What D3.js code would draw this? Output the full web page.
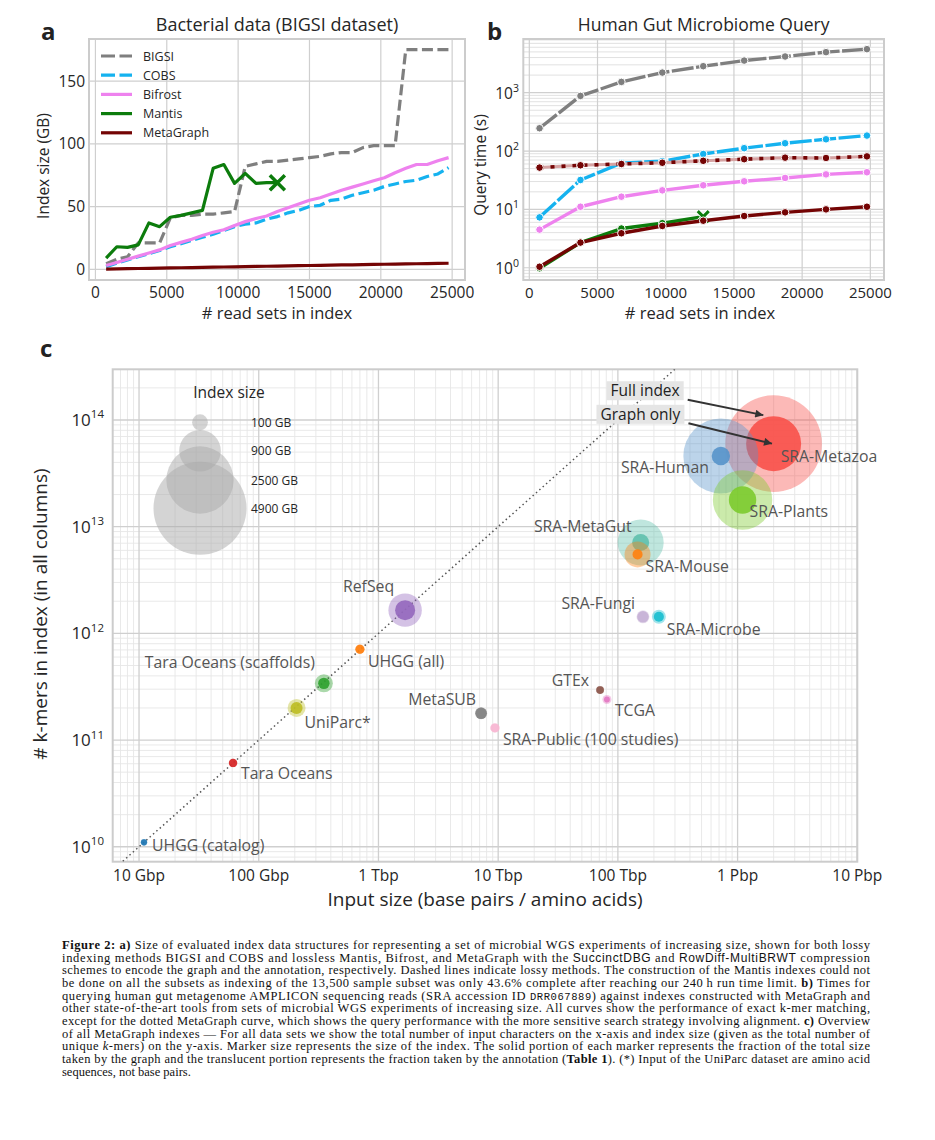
<!DOCTYPE html>
<html><head><meta charset="utf-8">
<script src="https://cdn.jsdelivr.net/npm/d3@7"></script>
<style>
body{margin:0;background:#fff;}
svg text{font-family:"Open Sans",sans-serif;}
</style></head>
<body><svg id="fig" width="935" height="1140"></svg>
<script>
// ================= DATA =================
// Panel a: index size (GB) vs # read sets
const aReadSets = [750,1500,2250,3000,3750,4500,5250,6000,6750,7500,8250,9000,9750,10500,11250,12000,12750,13500,14250,15000,15750,16500,17250,18000,18750,19500,20250,21000,21750,22500,23250,24000,24750];
const aBIGSI = [4.5,8,10,21,21,21,41,43,43,44,44,45,46,82,84,86,86,87,88,89,90,92,93,93,97,98.5,98.5,98.5,175,175,175,175,175];
const aCOBS = [2,5,7.5,10,12.5,15,18,20.5,23,25.5,28,31,34,36,37,40,42,45,47,50,51,55,56,59,61,63,66,68,70,71,74,76,81];
const aBifrost = [3,5.5,8,10.5,13,15.5,19,21.5,24,27,29.5,31.5,35,38,40.5,42.5,46,49,52,55,57,60,63,65.5,68,70.5,73,77,80.5,83.5,83.5,86.5,89];
const aMantis = [9,18,17.5,19.5,37,34,41.5,43,45,47,80.5,83.5,68.5,76.5,68.5,69,69];
const aMetaGraph = [0.2,0.35,0.5,0.65,0.8,0.95,1.1,1.25,1.4,1.55,1.7,1.85,2.0,2.15,2.3,2.45,2.6,2.75,2.9,3.05,3.2,3.35,3.5,3.6,3.75,3.9,4.05,4.2,4.3,4.45,4.6,4.7,4.85];
const aXTicks = [0,5000,10000,15000,20000,25000];
const aYTicks = [0,50,100,150];
const methodNames = ["BIGSI","COBS","Bifrost","Mantis","MetaGraph"];

// Panel b: query time (s) vs # read sets
const bReadSets = [750,3750,6750,9750,12750,15750,18750,21750,24750];
const bBIGSI = [246,880,1530,2210,2845,3550,4170,4950,5570];
const bCOBS = [7.3,31.9,62,67,89,112,136,159,184];
const bBifrost = [4.5,11.1,16.5,21.2,25.9,30.3,34.6,39.8,43.3];
const bMantis = [0.98,2.7,4.7,5.8,7.5];
const bMetaGraph = [1.04,2.7,3.9,5.2,6.4,7.7,8.9,10,11.1];
const bMetaGraphAlign = [52,57,60,63,68,72.5,77,76,81];
const bXTicks = [0,5000,10000,15000,20000,25000];
const bYTicks = [1,10,100,1000];

// Panel c: overview of MetaGraph indexes
const cNames = ["UHGG (catalog)","Tara Oceans","UniParc*","Tara Oceans (scaffolds)","UHGG (all)","RefSeq","MetaSUB","SRA-Public (100 studies)","GTEx","TCGA","SRA-Fungi","SRA-Microbe","SRA-MetaGut","SRA-Mouse","SRA-Human","SRA-Metazoa","SRA-Plants"];
const cInput = [1.1e10,6.1e10,2.07e11,3.5e11,7.0e11,1.67e12,7.2e12,9.4e12,7.1e13,8.1e13,1.62e14,2.2e14,1.55e14,1.46e14,7.25e14,2.0e15,1.1e15];
const cKmers = [1.1e10,6.1e10,2.0e11,3.4e11,7.1e11,1.65e12,1.78e11,1.3e11,2.94e11,2.4e11,1.43e12,1.43e12,7.1e12,5.5e12,4.6e13,6.0e13,1.78e13];
const cTotalGB = [8,19,136,136,25,559,49,25,15,22,60,73,1118,320,3136,5300,1924];
const cGraphGB = [6,17,49,43,22,175,44,22,13,5,45,30,119,30,143,1636,360];
const cXTicks = [1e10,1e11,1e12,1e13,1e14,1e15,1e16];
const cXTickLabels = ["10 Gbp","100 Gbp","1 Tbp","10 Tbp","100 Tbp","1 Pbp","10 Pbp"];
const cYTicks = [1e10,1e11,1e12,1e13,1e14];
const cLegendGB = [100,900,2500,4900];
const cLegendLabels = ["100 GB","900 GB","2500 GB","4900 GB"];
const cAnnotText = ["Full index","Graph only"];

// ================= STYLE / LAYOUT =================
const col = {BIGSI:"#7f7f7f", COBS:"#15b2ef", Bifrost:"#ee82ee", Mantis:"#0c7c0c", MetaGraph:"#740404"};
const cColors = ["#1f77b4","#d62728","#bcbd22","#2ca02c","#ff7f0e","#9467bd","#7f7f7f","#f7b6d2","#8c564b","#e377c2","#c5b0d5","#17becf","#5fc0ad","#ff7f0e","#5793ca","#f8514a","#7ccb2e"];
// label offsets [dx, dy(center), anchor]
const cLabelPos = [[8,3,"start"],[8,11,"start"],[8,15,"start"],[-9,-21,"end"],[8,12,"start"],[-11,-24,"end"],[-5,-14,"end"],[8,12,"start"],[-11,-10,"end"],[8,11,"start"],[-8,-13,"end"],[8,13,"start"],[-9,-16,"end"],[8,12,"start"],[-12,12,"end"],[7,13,"start"],[7,12,"start"]];
// annotation layout in data space: text centre, arrow tip
const cAnnotLayout = [
  {tx:1.69e14, ty:1.88e14, ax:1.64e15, ay:1.11e14},
  {tx:1.54e14, ty:1.13e14, ax:1.94e15, ay:6.0e13}
];

const svg = d3.select("#fig");
const ink = "#262626";
const gridMajor = "#cfcfcf", gridMinor = "#e6e6e6", frameCol = "#cccccc";

// ============ PANEL A ============
(function(){
  const L=89,R=465,T=39,B=280;
  const x = d3.scaleLinear().domain([-450,25900]).range([L,R]);
  const y = d3.scaleLinear().domain([-8.5,183.5]).range([B,T]);
  const g = svg.append("g");
  g.selectAll(".gx").data(aXTicks).join("line").attr("x1",d=>x(d)).attr("x2",d=>x(d)).attr("y1",T).attr("y2",B).attr("stroke",gridMajor).attr("stroke-width",1.2);
  g.selectAll(".gy").data(aYTicks).join("line").attr("y1",d=>y(d)).attr("y2",d=>y(d)).attr("x1",L).attr("x2",R).attr("stroke",gridMajor).attr("stroke-width",1.2);
  g.append("rect").attr("x",L).attr("y",T).attr("width",R-L).attr("height",B-T).attr("fill","none").attr("stroke",frameCol).attr("stroke-width",2);
  const line = d3.line().x(d=>x(d[0])).y(d=>y(d[1]));
  const series = [
    {n:"BIGSI", v:aBIGSI, dash:"11,4.5"},
    {n:"COBS", v:aCOBS, dash:"11,4.5"},
    {n:"Bifrost", v:aBifrost, dash:null},
    {n:"Mantis", v:aMantis, dash:null},
    {n:"MetaGraph", v:aMetaGraph, dash:null}
  ];
  series.forEach(s=>{
    const pts = s.v.map((v,i)=>[aReadSets[i],v]);
    g.append("path").attr("d",line(pts)).attr("fill","none").attr("stroke",col[s.n]).attr("stroke-width",3.2)
      .attr("stroke-dasharray",s.dash).attr("stroke-linejoin","round");
  });
  const mx = x(aReadSets[aMantis.length-1]), my = y(aMantis[aMantis.length-1]);
  const xs=7.5;
  g.append("path").attr("d",`M${mx-xs},${my-xs}L${mx+xs},${my+xs}M${mx-xs},${my+xs}L${mx+xs},${my-xs}`).attr("stroke",col.Mantis).attr("stroke-width",3.5).attr("fill","none");
  g.selectAll(".tx").data(aXTicks).join("text").attr("x",d=>x(d)).attr("y",298).attr("text-anchor","middle").attr("font-size",15.5).attr("fill",ink).text(d=>d);
  g.selectAll(".ty").data(aYTicks).join("text").attr("x",85).attr("y",d=>y(d)+5.5).attr("text-anchor","end").attr("font-size",15.5).attr("fill",ink).text(d=>d);
  g.append("text").attr("x",(L+R)/2).attr("y",319).attr("text-anchor","middle").attr("font-size",16.5).attr("fill",ink).text("# read sets in index");
  g.append("text").attr("transform","translate(49,166) rotate(-90)").attr("text-anchor","middle").attr("font-size",15.5).attr("fill",ink).text("Index size (GB)");
  g.append("text").attr("x",(L+R)/2).attr("y",31).attr("text-anchor","middle").attr("font-size",18).attr("fill",ink).text("Bacterial data (BIGSI dataset)");
  methodNames.forEach((n,i)=>{
    const yy = 56 + i*19.2;
    g.append("line").attr("x1",101).attr("x2",132).attr("y1",yy).attr("y2",yy).attr("stroke",col[n]).attr("stroke-width",3.2)
      .attr("stroke-dasharray", i<2 ? "14,4.5" : null);
    g.append("text").attr("x",143).attr("y",yy+4.5).attr("font-size",12.5).attr("fill",ink).text(n);
  });
  svg.append("text").attr("x",41).attr("y",40).attr("font-size",24).attr("font-weight",700).attr("fill","#222").text("a");
})();

// ============ PANEL B ============
(function(){
  const L=523.3,R=884,T=39,B=280;
  const x = d3.scaleLinear().domain([-440,26000]).range([L,R]);
  const y = d3.scaleLog().domain([Math.pow(10,-0.21),Math.pow(10,3.92)]).range([B,T]);
  const g = svg.append("g");
  const allY = y.ticks();
  g.selectAll(".gym").data(allY).join("line").attr("y1",d=>y(d)).attr("y2",d=>y(d)).attr("x1",L).attr("x2",R)
    .attr("stroke",d=>bYTicks.includes(d)?gridMajor:"#dedede").attr("stroke-width",d=>bYTicks.includes(d)?1.2:0.9);
  g.selectAll(".gx").data(bXTicks).join("line").attr("x1",d=>x(d)).attr("x2",d=>x(d)).attr("y1",T).attr("y2",B).attr("stroke",gridMajor).attr("stroke-width",1.2);
  g.append("rect").attr("x",L).attr("y",T).attr("width",R-L).attr("height",B-T).attr("fill","none").attr("stroke",frameCol).attr("stroke-width",2);
  const line = d3.line().x(d=>x(d[0])).y(d=>y(d[1]));
  const series = [
    {n:"BIGSI", v:bBIGSI, dash:"22,2.5"},
    {n:"COBS", v:bCOBS, dash:"22,2.5"},
    {n:"Bifrost", v:bBifrost, dash:null},
    {n:"Mantis", v:bMantis, dash:null},
    {n:"MetaGraph", v:bMetaGraph, dash:null}
  ];
  series.forEach(s=>{
    const pts = s.v.map((v,i)=>[bReadSets[i],v]);
    g.append("path").attr("d",line(pts)).attr("fill","none").attr("stroke",col[s.n]).attr("stroke-width",3.4).attr("stroke-dasharray",s.dash).attr("stroke-linejoin","round");
    const mk = s.n==="Mantis" ? pts.slice(0,-1) : pts;
    g.selectAll(null).data(mk).join("circle").attr("cx",d=>x(d[0])).attr("cy",d=>y(d[1])).attr("r",3.8)
      .attr("fill",col[s.n]).attr("stroke","#fff").attr("stroke-width",1);
    if(s.n==="Mantis"){
      const l = pts[pts.length-1]; const cx=x(l[0]), cy=y(l[1]), s2=5.5;
      const d = `M${cx-s2},${cy-s2}L${cx+s2},${cy+s2}M${cx-s2},${cy+s2}L${cx+s2},${cy-s2}`;
      g.append("path").attr("d",d).attr("stroke","#fff").attr("stroke-width",5).attr("fill","none");
      g.append("path").attr("d",d).attr("stroke",col.Mantis).attr("stroke-width",3).attr("fill","none");
    }
  });
  const ap = bMetaGraphAlign.map((v,i)=>[bReadSets[i],v]);
  g.append("path").attr("d",line(ap)).attr("fill","none").attr("stroke","#d6a3a3").attr("stroke-width",3);
  g.append("path").attr("d",line(ap)).attr("fill","none").attr("stroke",col.MetaGraph).attr("stroke-width",3.6).attr("stroke-dasharray","4,7");
  g.selectAll(null).data(ap).join("circle").attr("cx",d=>x(d[0])).attr("cy",d=>y(d[1])).attr("r",3.8)
    .attr("fill",col.MetaGraph).attr("stroke","#fff").attr("stroke-width",1);
  g.selectAll(".tx").data(bXTicks).join("text").attr("x",d=>x(d)).attr("y",298).attr("text-anchor","middle").attr("font-size",15).attr("fill",ink).text(d=>d);
  bYTicks.forEach(t=>{
    const tt = g.append("text").attr("x",519).attr("y",y(t)+6).attr("text-anchor","end").attr("font-size",15.5).attr("fill",ink);
    tt.append("tspan").text("10");
    tt.append("tspan").attr("dy",-7).attr("font-size",10.5).text(Math.round(Math.log10(t)));
  });
  g.append("text").attr("x",700).attr("y",319).attr("text-anchor","middle").attr("font-size",16.5).attr("fill",ink).text("# read sets in index");
  g.append("text").attr("transform","translate(486,165) rotate(-90)").attr("text-anchor","middle").attr("font-size",15.5).attr("fill",ink).text("Query time (s)");
  g.append("text").attr("x",(L+R)/2).attr("y",31).attr("text-anchor","middle").attr("font-size",17.5).attr("fill",ink).text("Human Gut Microbiome Query");
  svg.append("text").attr("x",487).attr("y",40).attr("font-size",24).attr("font-weight",700).attr("fill","#222").text("b");
})();

// ============ PANEL C ============
(function(){
  const L=112.7,R=857.3,T=369.3,B=861.7;
  const x = d3.scaleLog().domain([Math.pow(10,9.78),1e16]).range([L,R]);
  const y = d3.scaleLog().domain([Math.pow(10,9.86),Math.pow(10,14.475)]).range([B,T]);
  const r = d3.scaleSqrt().domain([0,4900]).range([1.5,46.5]);
  const g = svg.append("g");
  const isMajor = v => Math.abs(Math.log10(v)-Math.round(Math.log10(v)))<1e-6;
  const xt = x.ticks(), yt = y.ticks();
  g.selectAll(".gxm").data(xt.filter(d=>!isMajor(d))).join("line").attr("x1",d=>x(d)).attr("x2",d=>x(d)).attr("y1",T).attr("y2",B).attr("stroke",gridMinor).attr("stroke-width",0.9);
  g.selectAll(".gym").data(yt.filter(d=>!isMajor(d))).join("line").attr("y1",d=>y(d)).attr("y2",d=>y(d)).attr("x1",L).attr("x2",R).attr("stroke",gridMinor).attr("stroke-width",0.9);
  g.selectAll(".gxM").data(xt.filter(isMajor)).join("line").attr("x1",d=>x(d)).attr("x2",d=>x(d)).attr("y1",T).attr("y2",B).attr("stroke",gridMajor).attr("stroke-width",1.3);
  g.selectAll(".gyM").data(yt.filter(isMajor)).join("line").attr("y1",d=>y(d)).attr("y2",d=>y(d)).attr("x1",L).attr("x2",R).attr("stroke",gridMajor).attr("stroke-width",1.3);
  g.append("rect").attr("x",L).attr("y",T).attr("width",R-L).attr("height",B-T).attr("fill","none").attr("stroke",frameCol).attr("stroke-width",2);
  svg.append("clipPath").attr("id","clipc").append("rect").attr("x",L).attr("y",T).attr("width",R-L).attr("height",B-T);
  const lo = Math.pow(10,9.78), hi = Math.pow(10,14.6);
  g.append("line").attr("clip-path","url(#clipc)").attr("x1",x(lo)).attr("y1",y(lo)).attr("x2",x(hi)).attr("y2",y(hi))
    .attr("stroke","#555").attr("stroke-width",1.5).attr("stroke-dasharray","1.5,3");
  const lx = 200;
  const lyc = [422.3,450.7,480,508.3];
  g.append("text").attr("x",229).attr("y",398).attr("text-anchor","middle").attr("font-size",15.5).attr("fill",ink).text("Index size");
  cLegendGB.forEach((v,i)=>{
    g.append("circle").attr("cx",lx).attr("cy",lyc[i]).attr("r",r(v)).attr("fill","#a9a9a9").attr("fill-opacity",0.5);
  });
  cLegendGB.forEach((v,i)=>{
    g.append("text").attr("x",251).attr("y",lyc[i]+4.5).attr("font-size",12).attr("fill",ink).text(cLegendLabels[i]);
  });
  const idx = d3.range(cNames.length).sort((a,b)=>cTotalGB[b]-cTotalGB[a]);
  idx.forEach(i=>{
    const cx=x(cInput[i]), cy=y(cKmers[i]);
    g.append("circle").attr("cx",cx).attr("cy",cy).attr("r",r(cTotalGB[i])).attr("fill",cColors[i]).attr("fill-opacity",0.4);
    g.append("circle").attr("cx",cx).attr("cy",cy).attr("r",r(cGraphGB[i])).attr("fill",cColors[i]).attr("fill-opacity",0.9);
  });
  cNames.forEach((n,i)=>{
    const p = cLabelPos[i];
    g.append("text").attr("x",x(cInput[i])+p[0]).attr("y",y(cKmers[i])+p[1]+5.5).attr("text-anchor",p[2])
      .attr("font-size",15.8).attr("fill","#555").text(n);
  });
  const defs = svg.append("defs");
  defs.append("marker").attr("id","ah").attr("viewBox","0 0 10 10").attr("refX",10).attr("refY",5)
    .attr("markerWidth",11).attr("markerHeight",8).attr("markerUnits","userSpaceOnUse").attr("orient","auto")
    .append("path").attr("d","M0,0L10,5L0,10z").attr("fill","#333");
  cAnnotText.forEach((t,i)=>{
    const a = cAnnotLayout[i];
    const tx=x(a.tx), ty=y(a.ty);
    const txt = g.append("text").attr("x",tx).attr("y",ty+5.4).attr("text-anchor","middle").attr("font-size",15.5).attr("fill","#222").text(t);
    const bb = txt.node().getBBox();
    g.insert("rect","text").attr("x",bb.x-4).attr("y",ty-9.5).attr("width",bb.width+8).attr("height",19).attr("fill","#e5e5e5");
    txt.raise();
    g.append("line").attr("x1",bb.x+bb.width+8).attr("y1",ty+9).attr("x2",x(a.ax)).attr("y2",y(a.ay))
      .attr("stroke","#333").attr("stroke-width",2).attr("marker-end","url(#ah)");
  });
  g.selectAll(".tx").data(cXTicks).join("text").attr("x",d=>x(d)).attr("y",881).attr("text-anchor","middle").attr("font-size",15.5).attr("fill",ink).text((d,i)=>cXTickLabels[i]);
  cYTicks.forEach(t=>{
    const tt = g.append("text").attr("x",104).attr("y",y(t)+6).attr("text-anchor","end").attr("font-size",17).attr("fill",ink);
    tt.append("tspan").text("10");
    tt.append("tspan").attr("dy",-7.5).attr("font-size",11.5).text(Math.round(Math.log10(t)));
  });
  g.append("text").attr("x",(L+R)/2).attr("y",906).attr("text-anchor","middle").attr("font-size",19).attr("fill",ink).text("Input size (base pairs / amino acids)");
  g.append("text").attr("transform","translate(47,614) rotate(-90)").attr("text-anchor","middle").attr("font-size",19).attr("fill",ink).text("# k-mers in index (in all columns)");
  svg.append("text").attr("x",40).attr("y",357).attr("font-size",24).attr("font-weight",700).attr("fill","#222").text("c");
})();

// ============ CAPTION ============
const captionLines = [
 [["Figure 2:","b"],[" ",""],["a)","b"],[" Size of evaluated index data structures for representing a set of microbial WGS experiments of increasing size, shown for both lossy",""]],
 [["indexing methods BIGSI and COBS and lossless Mantis, Bifrost, and MetaGraph with the ",""],["SuccinctDBG","s"],[" and ",""],["RowDiff-MultiBRWT","s"],[" compression",""]],
 [["schemes to encode the graph and the annotation, respectively. Dashed lines indicate lossy methods. The construction of the Mantis indexes could not",""]],
 [["be done on all the subsets as indexing of the 13,500 sample subset was only 43.6% complete after reaching our 240\u2009h run time limit. ",""],["b)","b"],[" Times for",""]],
 [["querying human gut metagenome AMPLICON sequencing reads (SRA accession ID ",""],["DRR067889","m"],[") against indexes constructed with MetaGraph and",""]],
 [["other state-of-the-art tools from sets of microbial WGS experiments of increasing size. All curves show the performance of exact k-mer matching,",""]],
 [["except for the dotted MetaGraph curve, which shows the query performance with the more sensitive search strategy involving alignment. ",""],["c)","b"],[" Overview",""]],
 [["of all MetaGraph indexes \u2014 For all data sets we show the total number of input characters on the x-axis and index size (given as the total number of",""]],
 [["unique ",""],["k","i"],["-mers) on the y-axis. Marker size represents the size of the index. The solid portion of each marker represents the fraction of the total size",""]],
 [["taken by the graph and the translucent portion represents the fraction taken by the annotation (",""],["Table 1","b"],["). (*) Input of the UniParc dataset are amino acid",""]],
 [["sequences, not base pairs.",""]]
];
(function(){
  const x0=62, x1=870;
  captionLines.forEach((ln,i)=>{
    const t = svg.append("text").attr("x",x0).attr("y",949+i*12.65)
      .style("font-family","'Liberation Serif','Times New Roman',serif").attr("font-size",12.5).attr("fill","#111");
    ln.forEach(seg=>{
      const sp = t.append("tspan").text(seg[0]);
      if(seg[1]==="b") sp.attr("font-weight",700);
      if(seg[1]==="i") sp.attr("font-style","italic");
      if(seg[1]==="s") sp.style("font-family","'Liberation Sans',Arial,sans-serif").attr("font-size",12);
      if(seg[1]==="m") sp.style("font-family","'Liberation Mono','DejaVu Sans Mono',monospace").attr("font-size",10.5);
    });
    if(i<captionLines.length-1){
      t.attr("textLength",x1-x0).attr("lengthAdjust","spacing");
    }
  });
})();
</script>
</body></html>
